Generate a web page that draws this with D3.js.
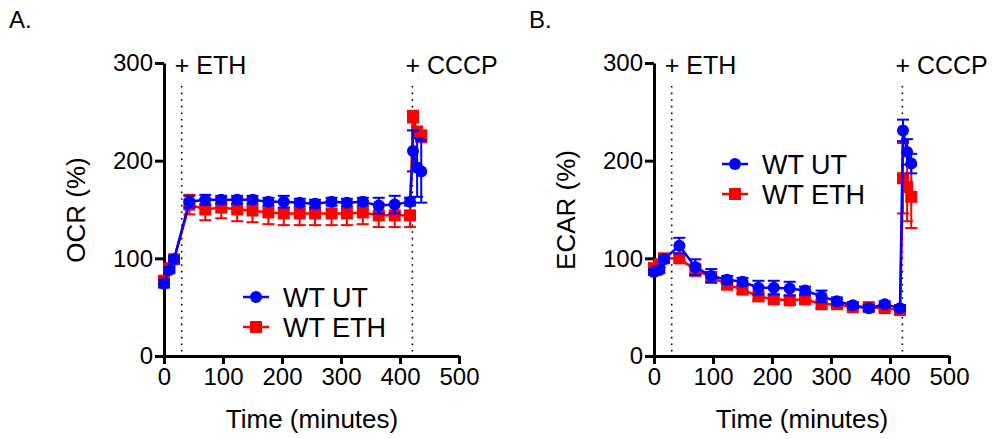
<!DOCTYPE html>
<html>
  <head>
    <style>
      body { margin: 0; background: #fff; }
      text { font-family: "Liberation Sans", Arial, sans-serif; }
    </style>
  </head>
  <body>
    <svg id="chart"></svg>
  </body>
</html>

<script src="https://d3js.org/d3.v7.min.js"></script>

<script>
  const WIDTH = 1000;
  const HEIGHT = 439;

  // sample times (minutes), shared by both series and panels
  const times = [0, 9, 17, 43, 70, 97, 124, 150, 177, 203, 230, 256, 284, 310, 337, 364, 391, 417, 422, 429, 436];

  // panel A - OCR (%)
  const ocrUT = [74, 88, 99, 158, 160, 160, 160, 160, 158, 158, 157, 156, 158, 157, 158, 154, 155, 158, 210, 193, 189];
  const ocrUTerr = [4, 3, 3, 6, 5, 4, 4, 4, 4, 6, 4, 4, 4, 4, 4, 8, 9, 4, 21, 30, 32];
  const ocrETH = [77, 90, 99, 155, 150, 152, 150, 149, 147, 146, 146, 146, 146, 146, 147, 144, 144, 144, 245, 229, 225];
  const ocrETHerr = [3, 3, 3, 10, 11, 11, 12, 12, 12, 12, 12, 12, 12, 12, 12, 12, 12, 12, 6, 6, 6];

  // panel B - ECAR (%)
  const ecarUT = [86, 88, 99, 113, 91, 82, 78, 76, 70, 70, 69, 67, 61, 56, 52, 49, 53, 49, 231, 209, 197];
  const ecarUTerr = [3, 3, 3, 8, 8, 7, 4, 4, 7, 7, 7, 4, 6, 4, 3, 3, 3, 3, 11, 13, 10];
  const ecarETH = [90, 94, 100, 100, 88, 81, 73, 68, 61, 58, 57, 58, 53, 53, 50, 50, 49, 47, 182, 173, 163];
  const ecarETHerr = [3, 3, 3, 4, 6, 5, 4, 4, 4, 4, 4, 4, 4, 4, 3, 3, 3, 3, 36, 35, 32];

  const xTicks = [0, 100, 200, 300, 400, 500];
  const yTicks = [0, 100, 200, 300];
  const seriesNames = ['WT UT', 'WT ETH'];
  const addEth = 30;
  const addCccp = 421;

  const BLUE = '#0000ff';
  const RED = '#ff0000';

  let svg = d3.select('#chart')
    .attr('width', WIDTH)
    .attr('height', HEIGHT)

  drawPanel({x0: 164, letter: 'A.', letterX: 9, yLabel: 'OCR (%)', yLabelX: 85,
    ut: ocrUT, utErr: ocrUTerr, eth: ocrETH, ethErr: ocrETHerr, legX: 256, legY: 297})
  drawPanel({x0: 654, letter: 'B.', letterX: 529, yLabel: 'ECAR (%)', yLabelX: 575,
    ut: ecarUT, utErr: ecarUTerr, eth: ecarETH, ethErr: ecarETHerr, legX: 735, legY: 164})

  function drawPanel(p) {
    let x = d3.scaleLinear().domain([0, 500]).range([p.x0, p.x0 + 295])
    let y = d3.scaleLinear().domain([0, 300]).range([356, 63])
    let g = svg.append('g')

    g.append('text')
      .attr('x', p.letterX).attr('y', 28)
      .attr('font-size', 24)
      .text(p.letter)

    // treatment markers
    ;[[addEth, '+ ETH'], [addCccp, '+ CCCP']].forEach(function(d) {
      g.append('line')
        .attr('x1', x(d[0])).attr('x2', x(d[0]))
        .attr('y1', 86).attr('y2', 356)
        .attr('stroke', '#000')
        .attr('stroke-width', 1.6)
        .attr('stroke-dasharray', '1.6,5')
      g.append('text')
        .attr('x', x(d[0]) - 7).attr('y', 74)
        .attr('font-size', 25)
        .text(d[1])
    })

    // axes
    let xAxis = g.append('g')
      .attr('transform', 'translate(0,356)')
      .call(d3.axisBottom(x).tickValues(xTicks).tickSize(8).tickSizeOuter(0).tickPadding(4))
    let yAxis = g.append('g')
      .attr('transform', 'translate(' + p.x0 + ',0)')
      .call(d3.axisLeft(y).tickValues(yTicks).tickSize(9).tickSizeOuter(0).tickPadding(2))
    ;[xAxis, yAxis].forEach(function(a) {
      a.select('.domain').attr('stroke-width', 3)
      a.selectAll('.tick line').attr('stroke-width', 3)
      a.selectAll('.tick text')
        .attr('font-size', 24)
        .attr('font-family', '"Liberation Sans", Arial, sans-serif')
        .attr('fill', '#000')
    })

    g.append('text')
      .attr('x', p.x0 + 148).attr('y', 428)
      .attr('text-anchor', 'middle')
      .attr('font-size', 26)
      .text('Time (minutes)')
    g.append('text')
      .attr('transform', 'translate(' + p.yLabelX + ',210) rotate(-90)')
      .attr('text-anchor', 'middle')
      .attr('font-size', 26)
      .text(p.yLabel)

    drawSeries(g, x, y, p.eth, p.ethErr, RED, 'square')
    drawSeries(g, x, y, p.ut, p.utErr, BLUE, 'circle')

    // legend
    let items = [[seriesNames[0], BLUE, 'circle'], [seriesNames[1], RED, 'square']]
    items.forEach(function(d, i) {
      let ly = p.legY + i * 30
      g.append('line')
        .attr('x1', p.legX - 13).attr('x2', p.legX + 13)
        .attr('y1', ly).attr('y2', ly)
        .attr('stroke', d[1]).attr('stroke-width', 2.5)
      addMarker(g, p.legX, ly, d[1], d[2])
      g.append('text')
        .attr('x', p.legX + 27).attr('y', ly + 10)
        .attr('font-size', 27)
        .text(d[0])
    })
  }

  function drawSeries(g, x, y, vals, errs, color, shape) {
    let data = vals.map(function(v, i) { return {t: times[i], v: v, e: errs[i]} })

    // error bars
    let eb = g.append('g').attr('stroke', color).attr('stroke-width', 2)
    data.forEach(function(d) {
      eb.append('line')
        .attr('x1', x(d.t)).attr('x2', x(d.t))
        .attr('y1', y(d.v - d.e)).attr('y2', y(d.v + d.e))
      ;[d.v - d.e, d.v + d.e].forEach(function(c) {
        eb.append('line')
          .attr('x1', x(d.t) - 6).attr('x2', x(d.t) + 6)
          .attr('y1', y(c)).attr('y2', y(c))
      })
    })

    g.append('path')
      .datum(data)
      .attr('fill', 'none')
      .attr('stroke', color)
      .attr('stroke-width', 2.5)
      .attr('d', d3.line().x(function(d) { return x(d.t) }).y(function(d) { return y(d.v) }))

    data.forEach(function(d) {
      addMarker(g, x(d.t), y(d.v), color, shape)
    })
  }

  function addMarker(g, cx, cy, color, shape) {
    if (shape == 'circle') {
      g.append('circle')
        .attr('cx', cx).attr('cy', cy).attr('r', 6)
        .attr('fill', color)
    } else {
      g.append('rect')
        .attr('x', cx - 6).attr('y', cy - 6)
        .attr('width', 12).attr('height', 12)
        .attr('fill', color)
    }
  }
</script>
